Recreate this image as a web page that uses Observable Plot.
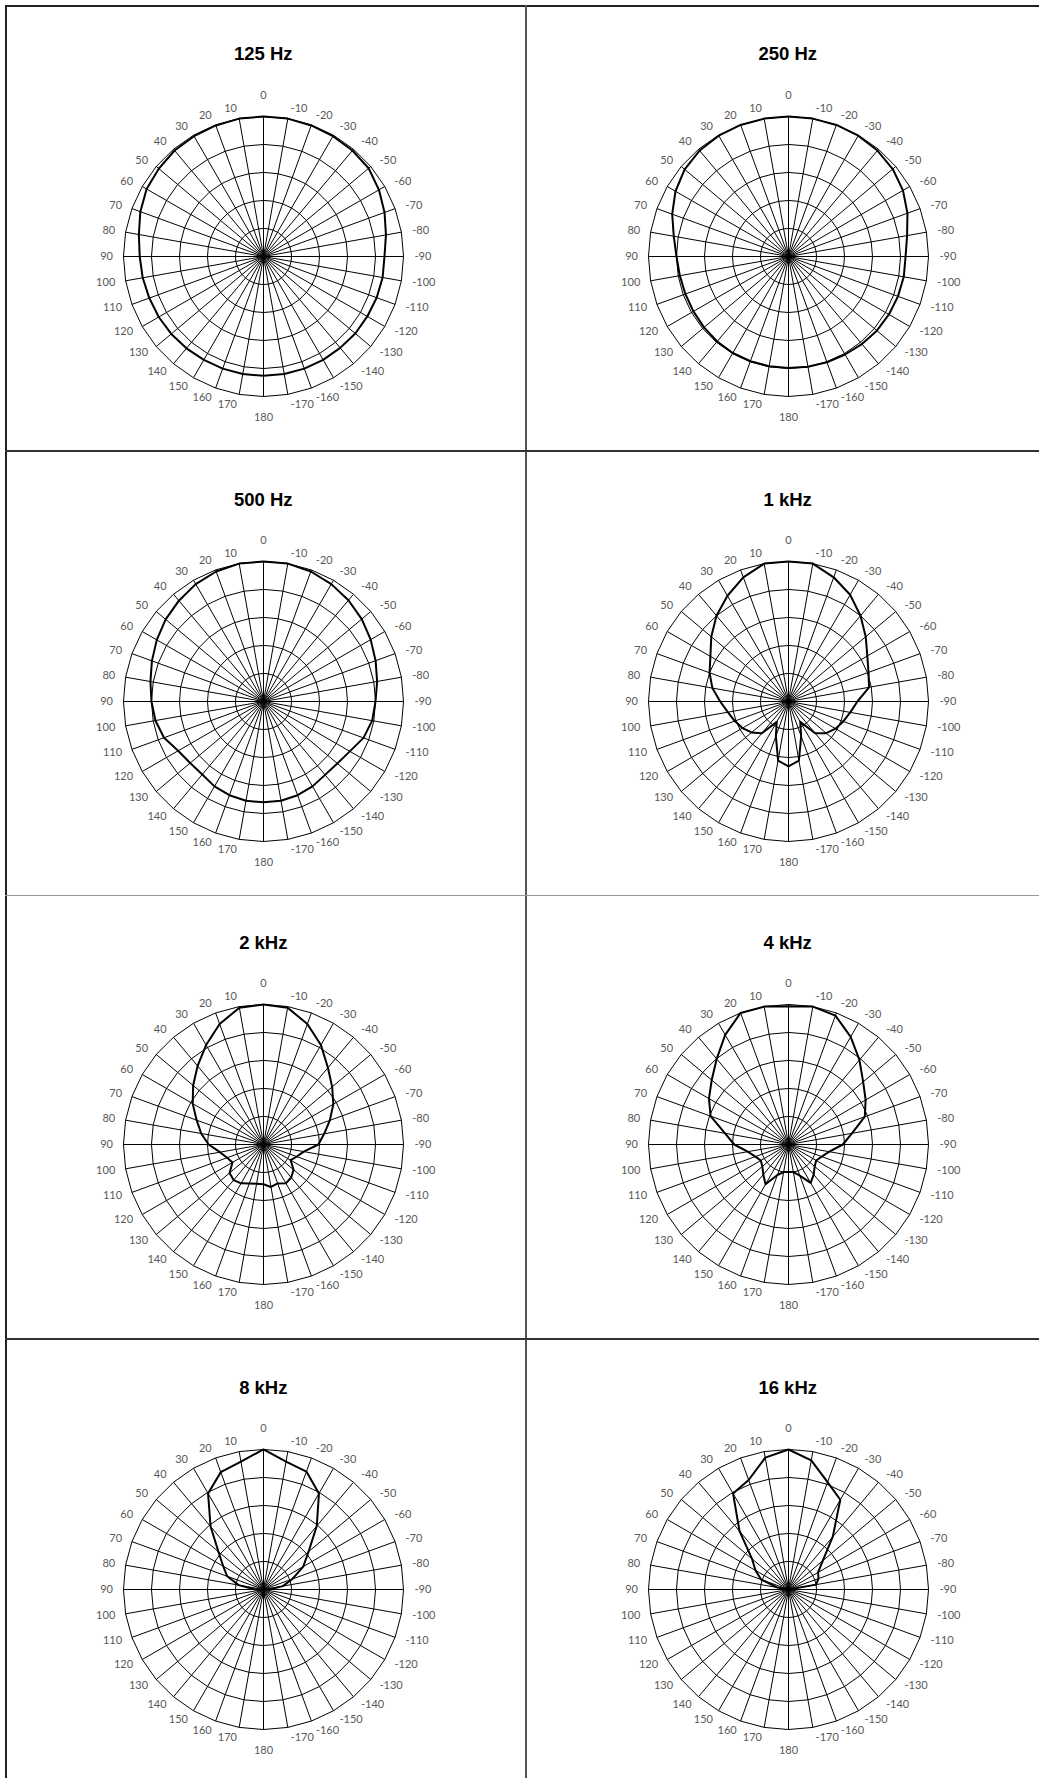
<!DOCTYPE html>
<html><head><meta charset="utf-8">
<script src="https://cdn.jsdelivr.net/npm/d3@7"></script>
<script src="https://cdn.jsdelivr.net/npm/@observablehq/plot@0.6"></script>
<style>
body{margin:0;background:#fff;}
#page{position:relative;width:1039px;height:1778px;overflow:hidden;background:#fff;}
.panel{position:absolute;width:520px;height:445px;}
.title{position:absolute;width:300px;font-family:"Liberation Sans",Arial,sans-serif;font-weight:bold;font-size:18.5px;line-height:20px;color:#000;text-align:center;}
.rule{position:absolute;}
</style></head><body><div id="page"></div>
<script>
// angle categories (degrees), counter-clockwise from top
const angles = [0,10,20,30,40,50,60,70,80,90,100,110,120,130,140,150,160,170,180,-170,-160,-150,-140,-130,-120,-110,-100,-90,-80,-70,-60,-50,-40,-30,-20,-10];
const titles = ["125 Hz","250 Hz","500 Hz","1 kHz","2 kHz","4 kHz","8 kHz","16 kHz"];
const ringLevels = [-20,-15,-10,-5,0];
const dbMin = -25, dbMax = 0;

// level (dB) per angle, same order as `angles`
const v125 = [0,0,-0.1,-0.2,-0.3,-0.6,-0.9,-1.6,-2.4,-2.9,-3.1,-3.3,-3.4,-3.5,-3.6,-3.7,-3.7,-3.7,-3.7,-3.7,-3.7,-3.7,-3.7,-3.6,-3.6,-3.5,-3.4,-3.4,-2.8,-2.0,-1.2,-0.5,-0.3,-0.2,-0.1,0];
const v250 = [0,0,0,-0.1,-0.3,-0.8,-1.7,-2.9,-4.2,-5.0,-5.3,-5.4,-5.4,-5.3,-5.2,-5.1,-5.1,-5.1,-5.1,-5.0,-4.9,-4.8,-4.6,-4.4,-4.3,-4.2,-4.1,-4.1,-3.5,-2.4,-1.4,-0.7,-0.3,-0.1,0,0];
const v500 = [0,0,-0.3,-0.8,-1.5,-2.2,-3.0,-3.8,-4.5,-5.0,-5.4,-6.1,-7.4,-7.9,-8.0,-7.5,-7.2,-7.0,-7.0,-7.0,-7.2,-7.5,-7.9,-7.8,-7.2,-6.0,-5.3,-5.0,-4.4,-3.7,-2.9,-2.1,-1.4,-0.8,-0.3,0];
const v1k = [0,0,-1.4,-3.2,-5.0,-7.0,-8.9,-10.0,-11.2,-12.8,-14.0,-14.8,-15.5,-16.4,-17.6,-20.8,-18.4,-14.3,-13.4,-14.3,-18.4,-20.8,-17.6,-16.2,-15.3,-14.6,-13.8,-12.7,-10.4,-9.8,-8.75,-7.0,-5.0,-3.0,-1.4,0];
const v2k = [0,-0.2,-2.1,-4.5,-6.7,-8.6,-10.4,-12.3,-13.7,-15.2,-17.1,-18.1,-18.6,-17.1,-16.7,-17.0,-17.6,-17.9,-17.9,-17.3,-17.6,-17.0,-17.3,-18.0,-19.4,-18.7,-17.7,-15.2,-14.0,-12.4,-10.6,-9.0,-7.1,-4.5,-2.1,-0.2];
const v4k = [-0.3,0,0,-2.4,-5.05,-7.1,-8.6,-10.2,-13.5,-15.3,-17.6,-18.7,-19.3,-18.9,-18.0,-16.8,-19.2,-20.0,-20.1,-20.0,-19.1,-17.1,-18.0,-18.9,-19.3,-18.7,-17.6,-15.3,-13.5,-10.5,-9.1,-7.6,-5.3,-2.8,-0.5,0];
const v8k = [0,-1.8,-2.7,-5.2,-10.3,-14.5,-16.7,-18.1,-20.5,-23.5,-25,-25,-25,-25,-25,-25,-24.8,-24.0,-23.5,-24.5,-25,-25,-25,-25,-25,-25,-25,-24.0,-21.5,-19.5,-16.8,-14.5,-10.2,-5.2,-2.6,-1.8];
const v16k = [0,-1.1,-4.2,-5.2,-11.4,-16.5,-18.2,-19.8,-23.0,-25,-25,-25,-25,-25,-25,-25,-25,-25,-25,-25,-25,-25,-25,-25,-25,-25,-25,-25,-20.0,-19.3,-18.9,-17.0,-12.7,-6.5,-4.6,-1.6];

const series = [v125,v250,v500,v1k,v2k,v4k,v8k,v16k];
const centersX = [263.3, 787.7];
const centersY = [255.7, 701, 1144.3, 1589.3];

const R = 140; // outer ring radius in px (frame fit)
const lon = a => 180 + a;
const lat = v => 90 - (v - dbMin) / (dbMax - dbMin);
const latPx = px => 90 - px / R;

const page = document.getElementById("page");

function chart(values) {
  const data = angles.map((a, i) => ({a, v: values[i]}));
  const rings = ringLevels.flatMap(l => angles.map(a => ({a, v: l})));
  const leftLab = angles.filter(a => a > 0 && a < 180);
  const rightLab = angles.filter(a => a < 0);
  const vertLab = angles.filter(a => a === 0 || a === 180);
  return Plot.plot({
    width: 520, height: 445,
    marginLeft: 120, marginRight: 120, marginTop: 110, marginBottom: 55,
    style: {background: "transparent", fontFamily: "Lato, sans-serif"},
    projection: {
      type: "azimuthal-equidistant",
      rotate: [0, -90],
      domain: d3.geoCircle().center([0, 90]).radius(1)(),
      clip: false
    },
    marks: [
      Plot.line(rings, {x: d => lon(d.a), y: d => lat(d.v), z: "v", curve: "linear-closed", stroke: "#000", strokeWidth: 1}),
      Plot.link(angles, {x1: a => lon(a), y1: lat(dbMax), x2: a => lon(a), y2: 90, stroke: "#000", strokeWidth: 1}),
      Plot.line(data, {x: d => lon(d.a), y: d => lat(d.v), curve: "linear-closed", stroke: "#000", strokeWidth: 2}),
      Plot.text(leftLab, {x: a => lon(a), y: latPx(150), text: a => String(a), textAnchor: "end", dx: -0.5, fill: "#595959", fontSize: 11}),
      Plot.text(rightLab, {x: a => lon(a), y: latPx(150), text: a => String(a), textAnchor: "start", dx: 1, fill: "#595959", fontSize: 11}),
      Plot.text(vertLab, {x: a => lon(a), y: latPx(161), text: a => String(a), textAnchor: "middle", fill: "#595959", fontSize: 11})
    ]
  });
}

series.forEach((vals, i) => {
  const col = i % 2, row = Math.floor(i / 2);
  const cx = centersX[col], cy = centersY[row];
  const div = document.createElement("div");
  div.className = "panel";
  div.style.left = (cx - 260) + "px";
  div.style.top = (cy - 250) + "px";
  div.appendChild(chart(vals));
  page.appendChild(div);
  const t = document.createElement("div");
  t.className = "title";
  t.textContent = titles[i];
  t.style.left = (cx - 150) + "px";
  t.style.top = (cy - 211.3) + "px";
  page.appendChild(t);
});

function rule(x, y, w, h, color) {
  const d = document.createElement("div");
  d.className = "rule";
  Object.assign(d.style, {left: x + "px", top: y + "px", width: w + "px", height: h + "px", background: color});
  page.appendChild(d);
}
rule(5, 5, 1034, 2, "#222");      // top
rule(5, 5, 2, 1773, "#222");      // left
rule(525, 5, 2, 1773, "#555");    // centre divider
rule(5, 450, 1034, 2, "#333");
rule(5, 895, 1034, 1, "#999");
rule(5, 1338, 1034, 2, "#333");
</script>
</body></html>
